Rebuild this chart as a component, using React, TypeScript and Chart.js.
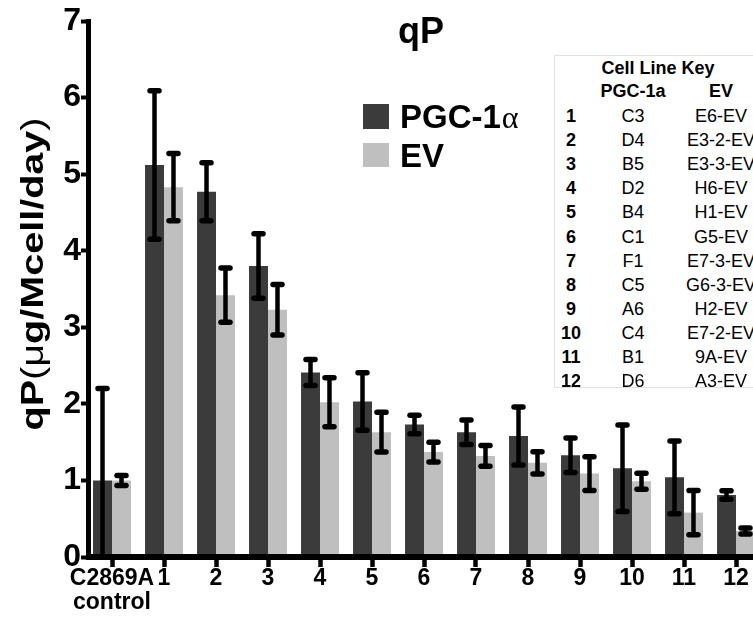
import React, { useEffect, useRef } from 'react';
import { Chart, registerables } from 'chart.js';

Chart.register(...registerables);

// Cell lines on the x axis
const categories: (string | string[])[] = [
  ['C2869A', 'control'], '1', '2', '3', '4', '5', '6', '7', '8', '9', '10', '11', '12',
];

// Specific productivity qP (µg/Mcell/day): mean and SD per cell line
const pgcMean = [1.0, 5.12, 4.77, 3.8, 2.41, 2.03, 1.73, 1.63, 1.58, 1.33, 1.16, 1.04, 0.81];
const pgcErr = [1.2, 0.97, 0.38, 0.42, 0.17, 0.375, 0.12, 0.16, 0.38, 0.225, 0.565, 0.475, 0.055];
const evMean = [1.0, 4.83, 3.42, 3.23, 2.02, 1.63, 1.37, 1.32, 1.23, 1.09, 0.99, 0.58, 0.34];
const evErr = [0.065, 0.44, 0.355, 0.33, 0.32, 0.26, 0.13, 0.135, 0.145, 0.22, 0.105, 0.29, 0.04];

// Y axis ticks
const yMin = 0;
const yMax = 7;
const yStep = 1;

// Cell line key table
const keyNums = ['1', '2', '3', '4', '5', '6', '7', '8', '9', '10', '11', '12'];
const keyPgc = ['C3', 'D4', 'B5', 'D2', 'B4', 'C1', 'F1', 'C5', 'A6', 'C4', 'B1', 'D6'];
const keyEv = ['E6-EV', 'E3-2-EV', 'E3-3-EV', 'H6-EV', 'H1-EV', 'G5-EV', 'E7-3-EV', 'G6-3-EV', 'H2-EV', 'E7-2-EV', '9A-EV', 'A3-EV'];

const FONT = '"Liberation Sans", Arial, Helvetica, sans-serif';
const DARK = '#3b3b3b';
const LIGHT = '#bfbfbf';
const CANVAS_W = 770;
const CANVAS_H = 622;

const errorBarsPlugin = {
  id: 'errorBars',
  afterDatasetsDraw(chart: any) {
    const { ctx, chartArea } = chart;
    const y = chart.scales.y;
    const errs = [pgcErr, evErr];
    ctx.save();
    ctx.beginPath();
    ctx.rect(chartArea.left, 0, CANVAS_W - chartArea.left, chartArea.bottom);
    ctx.clip();
    ctx.strokeStyle = '#000';
    chart.data.datasets.forEach((ds: any, d: number) => {
      const meta = chart.getDatasetMeta(d);
      meta.data.forEach((bar: any, i: number) => {
        const m = ds.data[i];
        const e = errs[d][i];
        const x = bar.x;
        const yt = y.getPixelForValue(m + e);
        const yb = y.getPixelForValue(m - e);
        ctx.lineWidth = 4.5;
        ctx.lineCap = 'butt';
        ctx.beginPath();
        ctx.moveTo(x, yt);
        ctx.lineTo(x, yb);
        ctx.stroke();
        ctx.lineWidth = 5.5;
        ctx.lineCap = 'round';
        [yt, yb].forEach((yy) => {
          ctx.beginPath();
          ctx.moveTo(x - 4.5, yy);
          ctx.lineTo(x + 4.5, yy);
          ctx.stroke();
        });
      });
    });
    ctx.restore();
  },
};

const decorPlugin = {
  id: 'decor',
  afterDraw(chart: any) {
    const { ctx, chartArea } = chart;
    ctx.save();
    // axis lines
    ctx.fillStyle = '#000';
    ctx.fillRect(chartArea.left, chartArea.top - 2, 5, chartArea.bottom - chartArea.top + 5);
    ctx.fillRect(chartArea.left, chartArea.bottom - 3, CANVAS_W - chartArea.left, 6);

    // title
    ctx.font = `bold 36px ${FONT}`;
    ctx.textAlign = 'center';
    ctx.textBaseline = 'alphabetic';
    ctx.fillText('qP', 421, 43);

    // legend
    ctx.textAlign = 'left';
    ctx.fillStyle = DARK;
    ctx.fillRect(363, 104, 26, 25);
    ctx.fillStyle = LIGHT;
    ctx.fillRect(363, 143, 26, 24);
    ctx.fillStyle = '#000';
    ctx.font = `bold 33px ${FONT}`;
    ctx.fillText('PGC-1', 400, 128);
    const w = ctx.measureText('PGC-1').width;
    ctx.font = `32px "Liberation Serif", serif`;
    ctx.fillText('\u03b1', 400 + w + 1, 128);
    ctx.font = `bold 33px ${FONT}`;
    ctx.fillText('EV', 400, 167);

    // y axis title, mixed weights, stretched along its length
    const parts: [string, string][] = [
      ['qP', `bold 32px ${FONT}`],
      ['(', `32px ${FONT}`],
      ['\u03bc', `32px ${FONT}`],
      ['g/Mcell/day', `bold 32px ${FONT}`],
      [')', `32px ${FONT}`],
    ];
    let total = 0;
    const widths = parts.map(([t, f]) => {
      ctx.font = f;
      const mw = ctx.measureText(t).width;
      total += mw;
      return mw;
    });
    const targetLen = 313;
    const s = targetLen / total;
    ctx.translate(43, 274);
    ctx.rotate(-Math.PI / 2);
    ctx.scale(s, 1);
    let px = -total / 2;
    parts.forEach(([t, f], i) => {
      ctx.font = f;
      ctx.fillText(t, px, 0);
      px += widths[i];
    });
    ctx.restore();
  },
};

const cellStyle = (x: number, y: number, bold: boolean): React.CSSProperties => ({
  position: 'absolute',
  left: x,
  top: y,
  transform: 'translate(-50%, -50%)',
  fontFamily: FONT,
  fontSize: 18,
  fontWeight: bold ? 'bold' : 'normal',
  lineHeight: 1,
  whiteSpace: 'nowrap',
  color: '#000',
});

function CellLineKey() {
  const left = 554;
  const top = 55;
  const colNum = 570 - left;
  const colPgc = 632 - left;
  const colEv = 720 - left;
  const rowY = (i: number) => 115 - top + 24.1 * i;
  return (
    <div
      style={{
        position: 'absolute',
        left,
        top,
        width: 240,
        height: 333,
        background: '#fff',
        borderTop: '1px solid #e2e2e2',
        borderLeft: '1px solid #e2e2e2',
        borderBottom: '1px solid #e2e2e2',
        boxSizing: 'border-box',
      }}
    >
      <div style={cellStyle(657 - left, 67 - top, true)}>Cell Line Key</div>
      <div style={cellStyle(colPgc, 90 - top, true)}>PGC-1a</div>
      <div style={cellStyle(colEv, 90 - top, true)}>EV</div>
      {keyNums.map((n, i) => (
        <React.Fragment key={n}>
          <div style={cellStyle(colNum, rowY(i), true)}>{n}</div>
          <div style={cellStyle(colPgc, rowY(i), false)}>{keyPgc[i]}</div>
          <div style={cellStyle(colEv, rowY(i), false)}>{keyEv[i]}</div>
        </React.Fragment>
      ))}
    </div>
  );
}

export default function App() {
  const canvasRef = useRef<HTMLCanvasElement | null>(null);

  useEffect(() => {
    if (!canvasRef.current) return;
    const chart = new Chart(canvasRef.current, {
      type: 'bar',
      data: {
        labels: categories,
        datasets: [
          {
            label: 'PGC-1\u03b1',
            data: pgcMean,
            backgroundColor: DARK,
            borderWidth: 0,
            categoryPercentage: 0.73,
            barPercentage: 1.0,
          },
          {
            label: 'EV',
            data: evMean,
            backgroundColor: LIGHT,
            borderWidth: 0,
            categoryPercentage: 0.73,
            barPercentage: 1.0,
          },
        ],
      },
      options: {
        responsive: false,
        animation: false,
        devicePixelRatio: 1,
        layout: { padding: { top: 21, right: 8, left: 0, bottom: 0 } },
        plugins: {
          legend: { display: false },
          title: { display: false },
          tooltip: { enabled: false },
        },
        scales: {
          x: {
            afterFit: (s: any) => {
              s.height = 65;
            },
            border: { display: false },
            grid: {
              display: true,
              offset: false,
              drawOnChartArea: false,
              drawTicks: true,
              tickLength: 10,
              tickWidth: 4.5,
              tickColor: '#000',
            },
            ticks: {
              color: '#000',
              padding: 0,
              maxRotation: 0,
              autoSkip: false,
              font: { family: FONT, size: 23, weight: 'bold', lineHeight: 1.02 },
            },
          },
          y: {
            min: yMin,
            max: yMax,
            afterFit: (s: any) => {
              s.width = 86;
            },
            border: { display: false },
            grid: {
              display: true,
              drawOnChartArea: false,
              drawTicks: true,
              tickLength: 5,
              tickWidth: 4,
              tickColor: '#000',
            },
            ticks: {
              stepSize: yStep,
              color: '#000',
              padding: 0,
              font: { family: FONT, size: 32, weight: 'bold' },
            },
          },
        },
      },
      plugins: [errorBarsPlugin, decorPlugin],
    } as any);
    return () => chart.destroy();
  }, []);

  return (
    <div
      style={{
        position: 'fixed',
        left: 0,
        top: 0,
        width: 753,
        height: 622,
        overflow: 'hidden',
        background: '#fff',
      }}
    >
      <canvas
        ref={canvasRef}
        width={CANVAS_W}
        height={CANVAS_H}
        style={{ position: 'absolute', left: 0, top: 0, width: CANVAS_W, height: CANVAS_H }}
      />
      <CellLineKey />
    </div>
  );
}
